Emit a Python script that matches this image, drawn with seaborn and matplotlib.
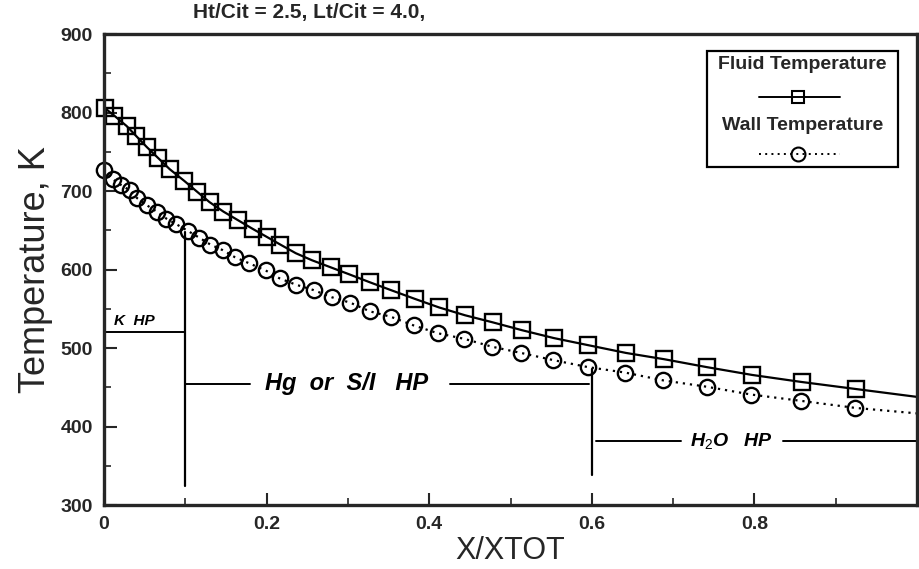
import matplotlib
matplotlib.use('Agg')
import matplotlib.pyplot as plt
import seaborn as sns
import pandas as pd
from matplotlib.patches import Rectangle
from matplotlib.lines import Line2D
from matplotlib.ticker import MultipleLocator

# ---- data ----
x_fluid = [0.001, 0.013, 0.028, 0.040, 0.053, 0.067, 0.081, 0.099, 0.115, 0.130,
           0.147, 0.165, 0.183, 0.200, 0.217, 0.236, 0.256, 0.279, 0.302, 0.327,
           0.353, 0.382, 0.412, 0.444, 0.478, 0.514, 0.553, 0.595, 0.642, 0.689,
           0.741, 0.797, 0.858, 0.925, 1.0]
t_fluid = [806, 796, 783, 770, 756, 742, 728, 713, 699, 686,
           674, 663, 652, 642, 632, 621, 612, 603, 594, 584,
           574, 563, 552, 542, 533, 523, 513, 504, 494, 486,
           476, 466, 457, 448, 438]

x_wall = [0.0, 0.011, 0.021, 0.032, 0.041, 0.053, 0.065, 0.077, 0.089, 0.104,
          0.117, 0.131, 0.146, 0.161, 0.179, 0.199, 0.216, 0.236, 0.258, 0.280,
          0.303, 0.327, 0.353, 0.381, 0.411, 0.443, 0.477, 0.513, 0.552, 0.595,
          0.641, 0.688, 0.741, 0.796, 0.857, 0.924, 1.0]
t_wall = [727, 715, 708, 701, 691, 682, 674, 665, 658, 649,
          641, 632, 625, 616, 608, 599, 589, 581, 574, 565,
          558, 547, 540, 529, 519, 512, 502, 494, 485, 476,
          469, 459, 451, 441, 433, 424, 417]

x_ticks = [0, 0.2, 0.4, 0.6, 0.8]
x_tick_labels = ['0', '0.2', '0.4', '0.6', '0.8']
y_ticks = [300, 400, 500, 600, 700, 800, 900]

series_names = ['Fluid Temperature', 'Wall Temperature']
title_text = 'Ht/Cit = 2.5, Lt/Cit = 4.0,'

# heat-pipe zone annotations (hand drawn in the original)
boundary_x = [0.1, 0.6]
boundary_bottom = [325, 338]
boundary_top = [648, 474]

k_hp_level = 521
k_hp_span = [0.0, 0.1]
hg_level = 455
hg_spans = [[0.1, 0.18], [0.425, 0.597]]
hg_text_x = 0.298
h2o_level = 382
h2o_spans = [[0.605, 0.71], [0.835, 1.0]]
h2o_text_x = 0.772
zone_labels = ['K  HP', 'Hg  or  S/I   HP', 'H$_2$O   HP']

# ---- style ----
sns.set_style('ticks')
plt.rcParams['font.family'] = ['Liberation Sans', 'DejaVu Sans']
plt.rcParams['mathtext.fontset'] = 'custom'
plt.rcParams['mathtext.it'] = 'Liberation Sans:italic'
plt.rcParams['mathtext.rm'] = 'Liberation Sans'

fig = plt.figure(figsize=(9.19, 5.69), dpi=100)
ax = fig.add_axes([0.113, 0.112, 0.885, 0.828])

df_f = pd.DataFrame({'x': x_fluid, 'T': t_fluid})
df_w = pd.DataFrame({'x': x_wall, 'T': t_wall})

sns.lineplot(data=df_f, x='x', y='T', ax=ax, color='black', linewidth=1.6,
             linestyle='-', marker='s', markersize=11, markerfacecolor='none',
             markeredgecolor='black', markeredgewidth=1.7,
             markevery=list(range(len(x_fluid) - 1)), clip_on=False,
             sort=False, estimator=None)
sns.lineplot(data=df_w, x='x', y='T', ax=ax, color='black', linewidth=1.6,
             linestyle=(0, (1, 2.2)), marker='o', markersize=11, markerfacecolor='none',
             markeredgecolor='black', markeredgewidth=1.7,
             markevery=list(range(len(x_wall) - 1)), clip_on=False,
             sort=False, estimator=None)

# zone boundaries
for bx, b0, b1 in zip(boundary_x, boundary_bottom, boundary_top):
    ax.plot([bx, bx], [b0, b1], color='black', lw=1.6)

hand = dict(color='black', fontstyle='italic', fontweight='bold')
ax.plot(k_hp_span, [k_hp_level, k_hp_level], color='black', lw=1.4)
ax.text(0.012, k_hp_level + 5, zone_labels[0], fontsize=11, ha='left', va='bottom', **hand)

for s in hg_spans:
    ax.plot(s, [hg_level, hg_level], color='black', lw=1.4)
ax.text(hg_text_x, hg_level, zone_labels[1], fontsize=17, ha='center', va='center', **hand)

for s in h2o_spans:
    ax.plot(s, [h2o_level, h2o_level], color='black', lw=1.4)
ax.text(h2o_text_x, h2o_level, zone_labels[2], fontsize=14, ha='center', va='center', **hand)

# axes
ax.set_xlim(0, 1.0)
ax.set_ylim(300, 900)
ax.set_xticks(x_ticks)
ax.set_xticklabels(x_tick_labels)
ax.set_yticks(y_ticks)
ax.xaxis.set_minor_locator(MultipleLocator(0.1))
ax.yaxis.set_minor_locator(MultipleLocator(50))
ax.tick_params(which='major', direction='in', length=9, width=1.5, labelsize=14,
               top=False, right=False, pad=8)
ax.tick_params(which='minor', direction='in', length=5, width=1.2,
               top=False, right=False)
for lab in ax.get_xticklabels() + ax.get_yticklabels():
    lab.set_fontweight('bold')
for sp in ax.spines.values():
    sp.set_linewidth(2.4)
    sp.set_visible(True)

ax.set_xlabel('X/XTOT', fontsize=22, labelpad=2)
ax.set_ylabel('Temperature, K', fontsize=26, labelpad=5)

# legend box (text above sample line as in the original)
box = Rectangle((0.742, 0.718), 0.234, 0.246, transform=ax.transAxes,
                facecolor='white', edgecolor='black', lw=1.6, zorder=5)
ax.add_patch(box)
ax.text(0.859, 0.936, series_names[0], transform=ax.transAxes, ha='center', va='center',
        fontsize=14, fontweight='bold', zorder=6)
ax.add_line(Line2D([0.805, 0.853, 0.905], [0.866, 0.866, 0.866], transform=ax.transAxes,
                   color='black', lw=1.4, marker='s', markersize=9, markerfacecolor='none',
                   markeredgewidth=1.5, markevery=[1], zorder=6))
ax.text(0.859, 0.806, series_names[1], transform=ax.transAxes, ha='center', va='center',
        fontsize=14, fontweight='bold', zorder=6)
ax.add_line(Line2D([0.805, 0.853, 0.905], [0.745, 0.745, 0.745], transform=ax.transAxes,
                   color='black', lw=1.4, linestyle=(0, (1, 2.2)), marker='o', markersize=10,
                   markerfacecolor='none', markeredgewidth=1.5, markevery=[1], zorder=6))

fig.text(0.21, 1 - 18 / 569, title_text, fontsize=15, fontweight='bold', ha='left',
         va='baseline')

fig.savefig('out.png', dpi=100)
